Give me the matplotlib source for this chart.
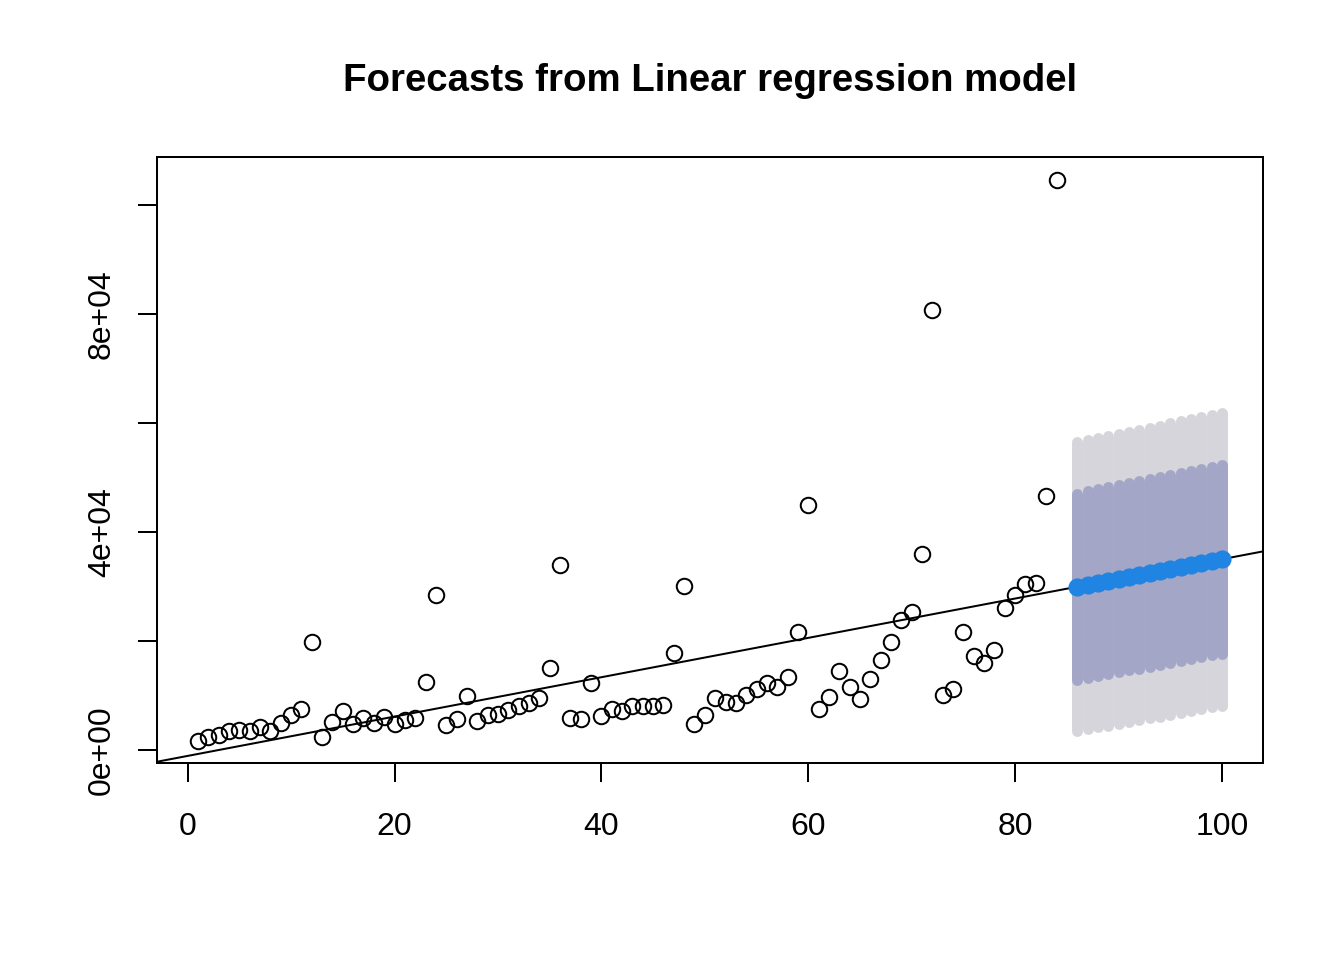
import matplotlib
matplotlib.use("Agg")
import matplotlib.pyplot as plt

plt.rcParams['font.family'] = ['Liberation Sans', 'DejaVu Sans']

# observed data (x = 1..84)
obs_x = list(range(1, 85))
obs_y = [1650, 2385, 2750, 3490, 3670, 3490, 4220, 3490, 4950, 6420,
         7520, 19820, 2385, 5140, 7160, 4770, 5870, 4950, 6060, 4770,
         5500, 5870, 12480, 28440, 4590, 5690, 9910, 5320, 6420, 6610,
         7340, 8070, 8620, 9540, 15050, 33940, 5870, 5690, 12290, 6240,
         7520, 7160, 8070, 8070, 8070, 8260, 17800, 30090, 4770, 6420,
         9540, 8810, 8620, 10090, 11190, 12290, 11560, 13390, 21650, 44950,
         7520, 9720, 14500, 11560, 9360, 13030, 16510, 19820, 23850, 25320,
         35960, 80730, 10090, 11190, 21650, 17250, 15960, 18350, 26060, 28440,
         30460, 30640, 46610, 104590]

# forecasts (x = 86..100)
fc_x = list(range(86, 101))
fc_mean = [29950, 30310, 30670, 31030, 31390, 31750, 32110, 32470, 32830,
           33190, 33550, 33910, 34270, 34630, 34990]
lo80 = [12850, 13195, 13540, 13885, 14230, 14575, 14920, 15265, 15610,
        15955, 16300, 16645, 16990, 17335, 17680]
hi80 = [47050, 47425, 47800, 48175, 48550, 48925, 49300, 49675, 50050,
        50425, 50800, 51175, 51550, 51925, 52300]
lo95 = [3450, 3785, 4120, 4455, 4790, 5125, 5460, 5795, 6130, 6465,
        6800, 7135, 7470, 7805, 8140]
hi95 = [56450, 56835, 57220, 57605, 57990, 58375, 58760, 59145, 59530,
        59915, 60300, 60685, 61070, 61455, 61840]

# fitted regression line
line_intercept = -1100
line_slope = 361

x_ticks = [0, 20, 40, 60, 80, 100]
y_ticks = [0, 20000, 40000, 60000, 80000, 100000]
y_ticklabels = ["0e+00", "", "4e+04", "", "8e+04", ""]
title = "Forecasts from Linear regression model"

fig = plt.figure(figsize=(7, 5), dpi=192)
ax = fig.add_axes([157/1344, 1-763/960, (1263-157)/1344, (763-157)/960])

ax.vlines(fc_x, lo95, hi95, colors="#D5D5DB", linewidth=4.1, capstyle="round", zorder=1)
ax.vlines(fc_x, lo80, hi80, colors="#A3A6C6", linewidth=4.1, capstyle="round", zorder=2)

ax.plot(obs_x, obs_y, linestyle="none", marker="o", markersize=5.8,
        markerfacecolor="none", markeredgecolor="black", markeredgewidth=0.75, zorder=3)

ax.axline((0, line_intercept), slope=line_slope, color="black", linewidth=0.75, zorder=4)

ax.plot(fc_x, fc_mean, linestyle="none", marker="o", markersize=6.8,
        markerfacecolor="#2084E2", markeredgecolor="none", zorder=5)

ax.set_xlim(-2.96, 103.96)
ax.set_ylim(-2400, 108800)

ax.set_xticks(x_ticks)
ax.set_xticklabels([str(v) for v in x_ticks])
ax.set_yticks(y_ticks)
ax.set_yticklabels(y_ticklabels, rotation=90, va="center")

for s in ax.spines.values():
    s.set_linewidth(0.75)
ax.tick_params(axis="both", length=7.2, width=0.75, labelsize=12, colors="black")
ax.tick_params(axis="x", pad=11)
ax.tick_params(axis="y", pad=7.8)

fig.text(710/1344, 1-81/960, title, ha="center", va="center",
         fontsize=14.4, fontweight="bold")

fig.savefig("out.png", dpi=192)
